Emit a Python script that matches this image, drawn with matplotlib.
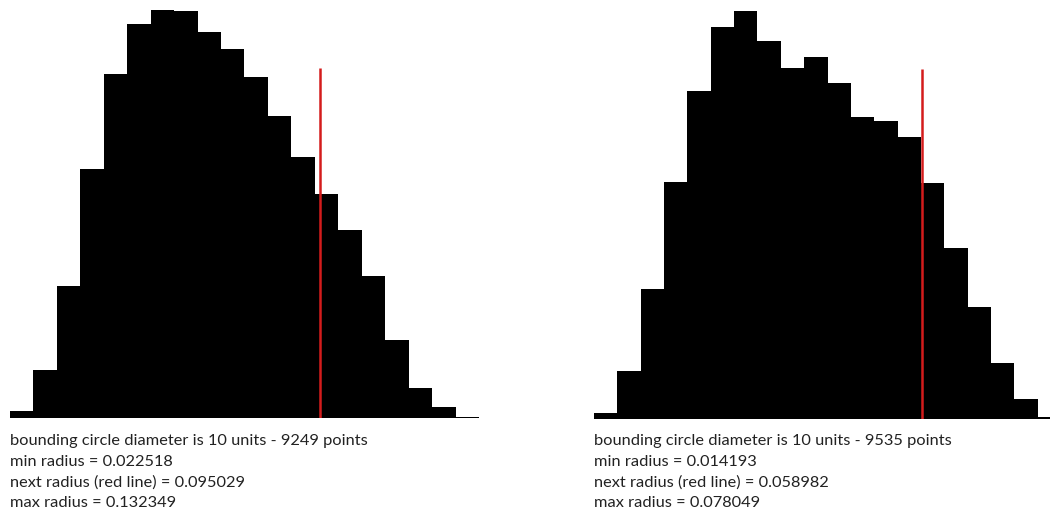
import numpy as np
import matplotlib.pyplot as plt

# histogram counts (20 bins each)
left_counts = [15, 103, 282, 533, 736, 843, 873, 871, 826, 790,
               730, 646, 559, 479, 402, 304, 167, 64, 24, 2]
right_counts = [13, 103, 278, 507, 702, 839, 873, 809, 751, 775,
                719, 646, 638, 603, 505, 366, 240, 120, 43, 5]

left_info = {"points": 9249, "min": 0.022518, "next": 0.095029, "max": 0.132349}
right_info = {"points": 9535, "min": 0.014193, "next": 0.058982, "max": 0.078049}

W, H = 1050, 514
fig = plt.figure(figsize=(W / 100, H / 100), dpi=100)
plt.rcParams['font.family'] = ['Lato', 'DejaVu Sans']

counts_per_px = 2.14


def draw(counts, info, x0, w, base):
    # base = pixel row of the baseline (from top)
    ax = fig.add_axes([x0 / W, (H - base) / H, w / W, base / H])
    edges = np.linspace(info["min"], info["max"], len(counts) + 1)
    ax.bar(edges[:-1], counts, width=np.diff(edges), align='edge',
           color='black', edgecolor='none')
    ax.axhline(0, color='black', lw=2)
    ax.vlines(info["next"], 0, 750, color='#d41c1c', lw=1.8)
    ax.set_xlim(info["min"], info["max"])
    ax.set_ylim(0, base * counts_per_px)
    ax.axis('off')
    lines = ["bounding circle diameter is 10 units - %d points" % info["points"],
             "min radius = %.6f" % info["min"],
             "next radius (red line) = %.6f" % info["next"],
             "max radius = %.6f" % info["max"]]
    for i, s in enumerate(lines):
        fig.text(x0 / W, 1 - (441 + i * 20.8) / H, s, ha='left', va='center',
                 fontsize=11.8, color='#222222')


draw(left_counts, left_info, 10, 469, 418)
draw(right_counts, right_info, 594, 467, 419)

fig.savefig('out.png', dpi=100, facecolor='white')
